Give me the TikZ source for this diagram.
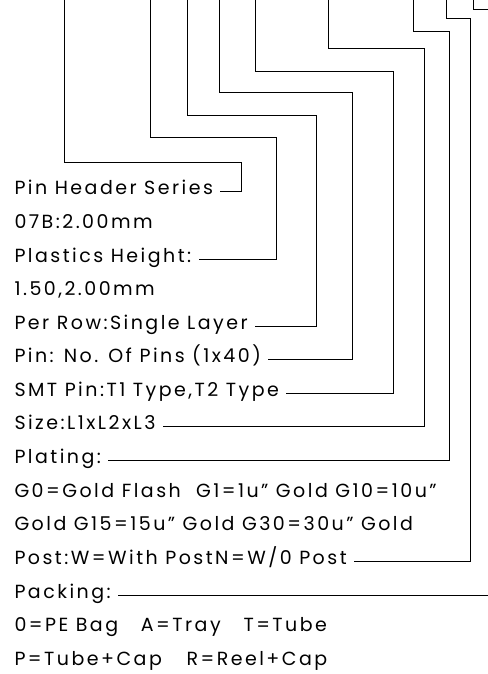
\documentclass[tikz,border=0pt]{standalone}
\usepackage{fontspec}
\setmainfont{Poppins}[LetterSpace=13]

\begin{document}
\begin{tikzpicture}[x=1pt,y=-1pt,line width=1pt,
        spec/.style={anchor=base west,inner sep=0pt,font=\fontsize{19}{20}\selectfont},
        gap/.style={xshift=7pt,yshift=3.5pt}]
        \useasboundingbox[fill=white] (0,0) rectangle (487,674);

        % text lines
        \node[spec] (hdr) at (14,194.5) {Pin Header Series};
        \node[spec] (pitch) at (14,228.5) {07B:2.00mm};
        \node[spec] (height) at (14,262.5) {Plastics Height:};
        \node[spec] (hval) at (14,295.5) {1.50,2.00mm};
        \node[spec] (row) at (14,329.5) {Per Row:Single Layer};
        \node[spec] (pins) at (14,362.5) {Pin: No. Of Pins (1x40)};
        \node[spec] (smt) at (14,396.5) {SMT Pin:T1 Type,T2 Type};
        \node[spec] (size) at (14,429.5) {Size:L1xL2xL3};
        \node[spec] (plating) at (14,463.5) {Plating:};
        \node[spec] (goldA) at (14,497.5) {G0=Gold Flash\hspace{0.8em}G1=1u" Gold G10=10u"};
        \node[spec] (goldB) at (14,530.5) {Gold G15=15u" Gold G30=30u" Gold};
        \node[spec] (post) at (14,564.5) {Post:W=With PostN=W/0 Post};
        \node[spec] (packing) at (14,598.5) {Packing:};
        \node[spec] (packA) at (14,631.5) {0=PE Bag\hspace{1.2em}A=Tray\hspace{1.2em}T=Tube};
        \node[spec] (packB) at (14,665.5) {P=Tube+Cap\hspace{1.3em}R=Reel+Cap};

        % free ends at the top
        \coordinate (t1) at (64,0);
        \coordinate (t2) at (150,0);
        \coordinate (t3) at (187,0);
        \coordinate (t4) at (219,0);
        \coordinate (t5) at (255,0);
        \coordinate (t6) at (328,0);
        \coordinate (t7) at (413,0);
        \coordinate (t8) at (446,0);
        \coordinate (t9) at (473,0);
        \coordinate (e9) at (490,10);
        \coordinate (e10) at (490,595);

        % leaders
        \draw (t1) |- (241,162) |- ([gap]hdr.base east);
        \draw (t2) |- (276,137) |- ([gap]height.base east);
        \draw (t3) |- (316,116) |- ([gap]row.base east);
        \draw (t4) |- (352,93) |- ([gap]pins.base east);
        \draw (t5) |- (393,72) |- ([gap]smt.base east);
        \draw (t6) |- (424,49) |- ([gap]size.base east);
        \draw (t7) |- (449,32) |- ([gap]plating.base east);
        \draw (t8) |- (470,19) |- ([gap]post.base east);
        \draw (t9) |- (e9);
        \draw ([gap]packing.base east) -- (e10);

    \end{tikzpicture}
\end{document}
